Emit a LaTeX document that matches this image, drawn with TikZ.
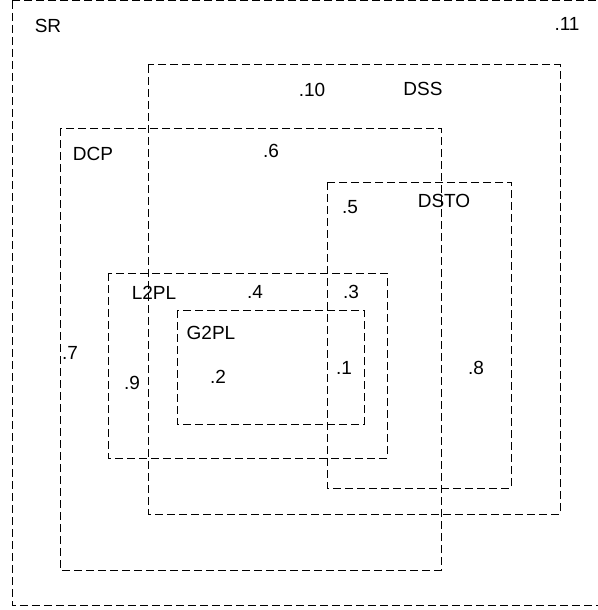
\documentclass[tikz,border=0pt]{standalone}
\usepackage{fontspec}
\setmainfont{Liberation Sans}
\begin{document}
\begin{tikzpicture}[x=1pt,y=-1pt,
  region/.style={draw=black, line width=1pt, dash pattern=on 8pt off 4pt},
  lbl/.style={font=\fontsize{19}{21}\selectfont, inner sep=0pt, anchor=center}]
\useasboundingbox (0,0) rectangle (597,610);
% regions
\draw[region] (12,1) rectangle (600,605);
\draw[region] (148,65) rectangle (560,514);
\draw[region] (60,128) rectangle (441,570);
\draw[region] (327,182) rectangle (511,488);
\draw[region] (108,273) rectangle (387,458);
\draw[region] (177,310) rectangle (364,424);
% labels
\node[lbl] (sr) at (48,26) {SR};
\node[lbl] (p11) at (567,24) {.11};
\node[lbl] (dss) at (423,89) {DSS};
\node[lbl] (p10) at (312,90) {.10};
\node[lbl] (dcp) at (93,154) {DCP};
\node[lbl] (p6) at (271,151) {.6};
\node[lbl] (p5) at (350,207) {.5};
\node[lbl] (dsto) at (444,201) {DSTO};
\node[lbl] (l2pl) at (154,293) {L2PL};
\node[lbl] (p4) at (255,292) {.4};
\node[lbl] (p3) at (351,292) {.3};
\node[lbl] (g2pl) at (211,333) {G2PL};
\node[lbl] (p2) at (218,377) {.2};
\node[lbl] (p1) at (344,368) {.1};
\node[lbl] (p9) at (132,383) {.9};
\node[lbl] (p7) at (70,353) {.7};
\node[lbl] (p8) at (476,368) {.8};
\end{tikzpicture}
\end{document}
